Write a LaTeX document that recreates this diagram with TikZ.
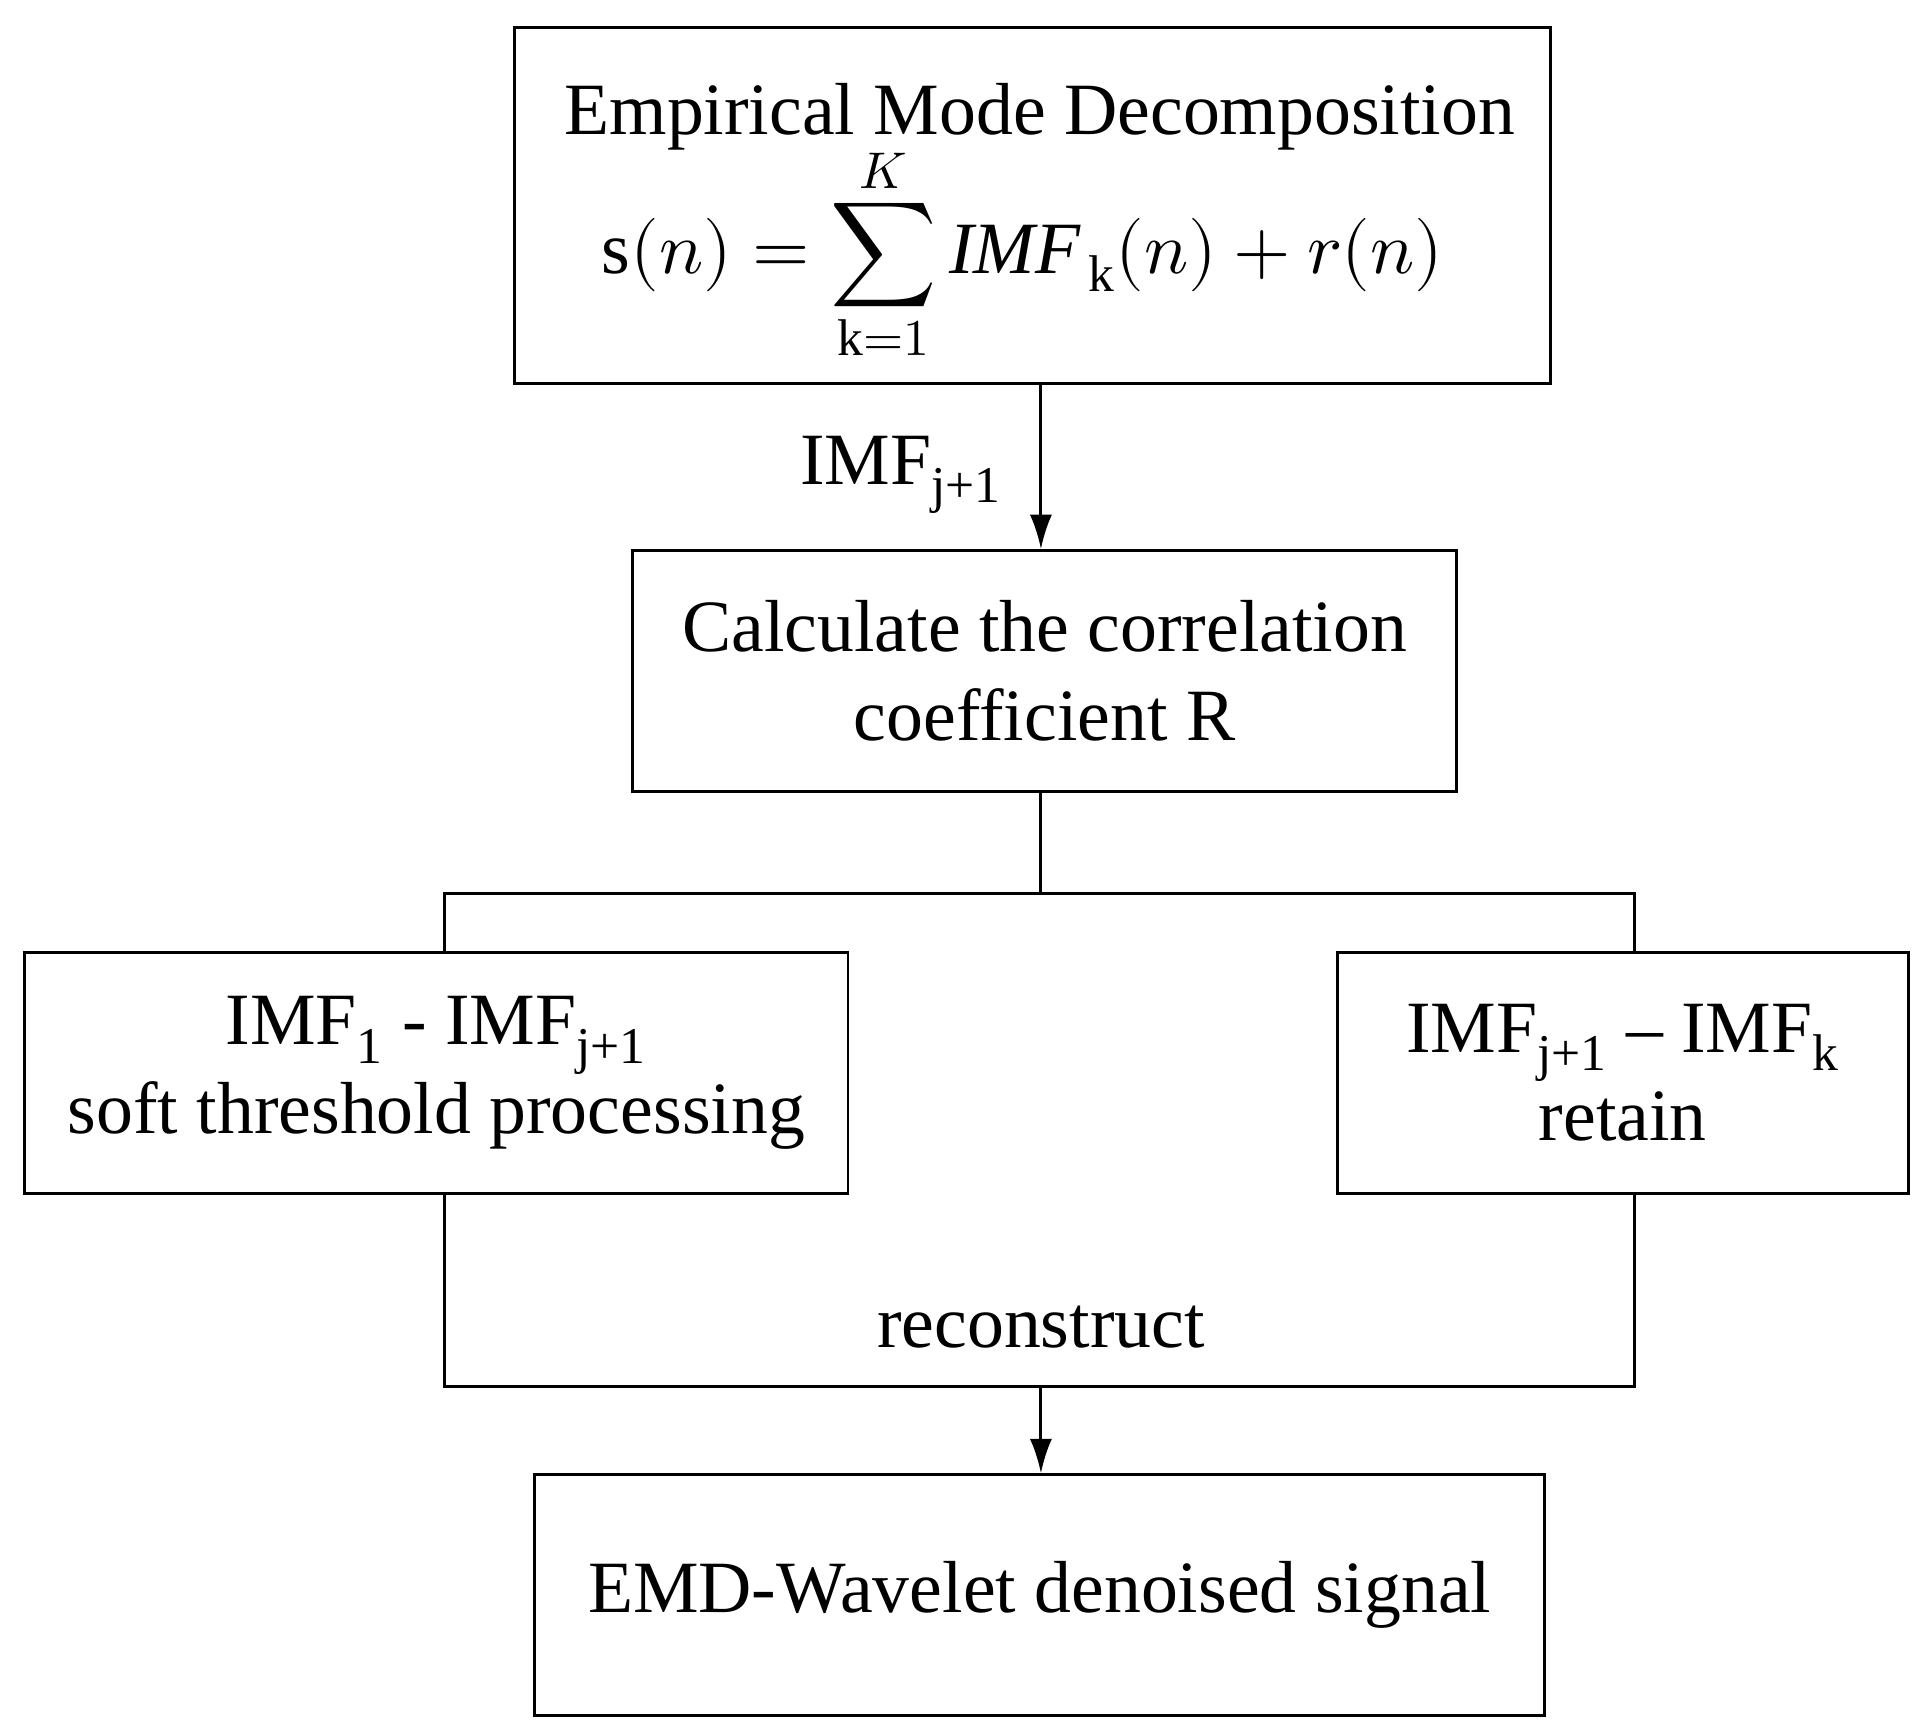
\documentclass[tikz,border=0pt]{standalone}
\usepackage{unicode-math}
\setmainfont{Liberation Serif}
\setmathfont{Latin Modern Math}
\usetikzlibrary{arrows.meta}
\begin{document}
\begin{tikzpicture}[x=0.5pt,y=-0.5pt,
  box/.style={draw,line width=1.2pt,inner sep=0pt},
  ln/.style={line width=1.2pt},
  arr/.style={line width=1.2pt,-{Latex[length=14pt,width=9pt]}},
  font=\fontsize{30}{36}\selectfont]
\useasboundingbox (0,0) rectangle (1568,1408);
\node[box,minimum width=421.5pt,minimum height=145pt] (top) at (840.5,167) {};
\node at (846,95) (t1) {Empirical Mode Decomposition};
\node at (832,207) (t2) {$\mathrm{s}(n) = \displaystyle\sum_{\mathrm{k}=1}^{K} \mathit{IMF}_{\,\mathrm{k}}(n) + r(n)$};
\node[box,minimum width=335pt,minimum height=98pt,align=center] (calc) at (850,546) {Calculate the correlation\\coefficient R};
\node[box,minimum width=335pt,minimum height=98pt,align=center] (left) at (355,873) {IMF\textsubscript{1} - IMF\textsubscript{j+1}\\soft threshold processing};
\node[box,minimum width=232.5pt,minimum height=98pt,align=center] (right) at (1320.5,873) {IMF\textsubscript{j+1} -- IMF\textsubscript{k}\\retain};
\node[box,minimum width=411pt,minimum height=98pt] (bot) at (846,1298) {EMD-Wavelet denoised signal};
\draw[arr] (top.south -| 847,0) -- (calc.north -| 847,0) node[pos=0.55,left=12pt] (l1) {IMF\textsubscript{j+1}};
\coordinate (b1) at (847,727);
\draw[ln] (calc.south -| b1) -- (b1);
\draw[ln] (left.north -| 362,0) |- (b1) -| (right.north -| 1330,0);
\coordinate (b2) at (847,1128);
\draw[ln] (left.south -| 362,0) |- (b2) -| (right.south -| 1330,0);
\draw[arr] (b2) -- (bot.north -| b2);
\node at (847,1080) (rec) {reconstruct};
\end{tikzpicture}
\end{document}
